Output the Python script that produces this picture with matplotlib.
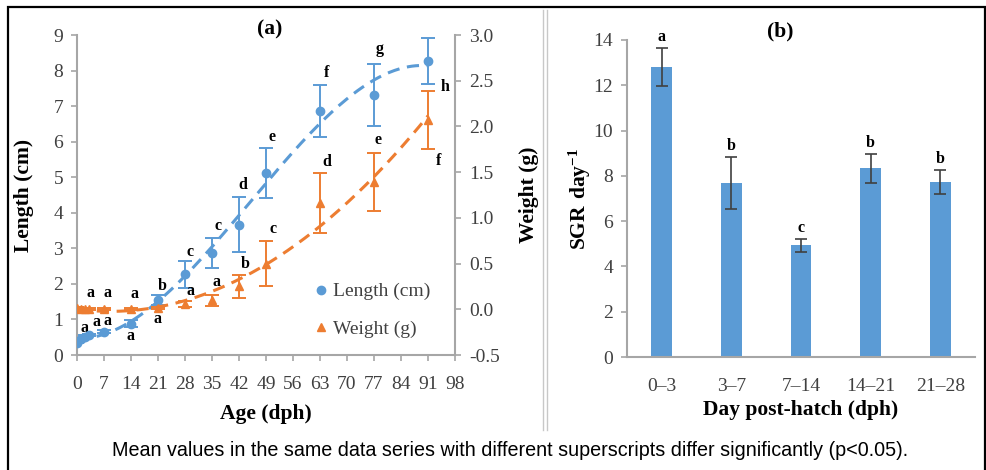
import matplotlib
matplotlib.use("Agg")
import matplotlib.pyplot as plt
import numpy as np
from matplotlib.lines import Line2D
from matplotlib.patches import Rectangle

# panel (a): growth in length and weight
age = [0, 1, 2, 3, 7, 14, 21, 28, 35, 42, 49, 63, 77, 91]
length = [0.35, 0.45, 0.52, 0.56, 0.65, 0.88, 1.55, 2.27, 2.87, 3.67, 5.12, 6.85, 7.31, 8.27]
length_err = [0.02, 0.02, 0.03, 0.03, 0.04, 0.10, 0.15, 0.38, 0.42, 0.78, 0.70, 0.73, 0.88, 0.65]
length_sig = ["", "", "a", "a", "a", "a", "b", "c", "c", "d", "e", "f", "g", "h"]
weight = [0.01, 0.0, 0.0, 0.0, 0.0, 0.0, 0.01, 0.06, 0.10, 0.25, 0.50, 1.16, 1.39, 2.07]
weight_err = [0.01, 0.01, 0.01, 0.01, 0.01, 0.01, 0.01, 0.03, 0.06, 0.13, 0.25, 0.33, 0.32, 0.32]
weight_sig = ["", "", "", "a", "a", "a", "a", "a", "a", "b", "c", "d", "e", "f"]

# panel (b): specific growth rate
sgr_period = ["0\u20133", "3\u20137", "7\u201314", "14\u201321", "21\u201328"]
sgr = [12.8, 7.7, 4.93, 8.33, 7.75]
sgr_err = [0.85, 1.15, 0.28, 0.63, 0.53]
sgr_sig = ["a", "b", "c", "b", "b"]

BLUE = "#5B9BD5"
ORANGE = "#ED7D31"
GREY = "#A6A6A6"
TXT = "#404040"
SERIF = "Liberation Serif"

# letter offsets in pixels (dx, dy) relative to error bar end
len_off = [(0, 0), (0, 0), (0, 7), (8, 12), (4, 9), (0, -9), (4, 9), (5, 9),
           (6, 12), (4, 12), (6, 11), (7, 12), (6, 15), (17, -3)]
wt_off = [(0, 0), (0, 0), (0, 0), (2, 15), (4, 15), (4, 14), (0, -10), (6, 10),
          (5, 13), (6, 11), (7, 12), (7, 11), (4, 13), (11, -12)]

plt.rcParams["font.family"] = SERIF
plt.rcParams["mathtext.fontset"] = "custom"
plt.rcParams["mathtext.rm"] = SERIF
plt.rcParams["mathtext.bf"] = SERIF + ":bold"

fig = plt.figure(figsize=(9.87, 4.7), dpi=100)


def style_axis(ax):
    for side in ["top", "right", "left", "bottom"]:
        ax.spines[side].set_visible(False)
    ax.tick_params(colors=GREY, labelcolor=TXT, labelsize=14, length=4, width=1.2)


# ---- (a)
ax = fig.add_axes([77 / 987, 1 - 355 / 470, 378 / 987, 320 / 470])
ax2 = ax.twinx()
style_axis(ax)
style_axis(ax2)
ax.spines["left"].set_visible(True)
ax.spines["bottom"].set_visible(True)
ax2.spines["right"].set_visible(True)
for sp in [ax.spines["left"], ax.spines["bottom"], ax2.spines["right"]]:
    sp.set_color(GREY)
    sp.set_linewidth(1.5)

ax.set_xlim(0, 98)
ax.set_ylim(0, 9)
ax.set_xticks(range(0, 99, 7))
ax.set_yticks(range(0, 10))
ax.tick_params(axis="x", pad=11)
ax.tick_params(axis="y", pad=6)
ax2.tick_params(axis="y", pad=6)
ax2.set_ylim(-0.5, 3.0)
ax2.set_yticks(np.arange(-0.5, 3.01, 0.5))
ax2.set_yticklabels([f"{v:.1f}" for v in np.arange(-0.5, 3.01, 0.5)])

xs = np.linspace(0, 91, 200)
fit_len = np.polyfit(age, length, 3)
fit_wt = np.polyfit(age, weight, 2)
ax.plot(xs, np.polyval(fit_len, xs), "--", color=BLUE, lw=2.2, dashes=(4, 2.5), zorder=2)
ax2.plot(xs, np.polyval(fit_wt, xs), "--", color=ORANGE, lw=2.2, dashes=(4, 2.5), zorder=2)

ax.errorbar(age, length, yerr=length_err, fmt="o", color=BLUE, ms=6, capsize=5,
            elinewidth=1.4, capthick=1.4, zorder=3)
ax2.errorbar(age, weight, yerr=weight_err, fmt="^", color=ORANGE, ms=6, capsize=5,
             elinewidth=1.4, capthick=1.4, zorder=3)

for x, y, e, s, (dx, dy) in zip(age, length, length_err, length_sig, len_off):
    if s:
        yy = y + e if dy > 0 else y - e
        ax.annotate(s, (x, yy), xytext=(dx, dy), textcoords="offset pixels",
                    ha="center", va="center", fontsize=11.5, fontweight="bold")
for x, y, e, s, (dx, dy) in zip(age, weight, weight_err, weight_sig, wt_off):
    if s:
        yy = y + e if dy > 0 else y - e
        ax2.annotate(s, (x, yy), xytext=(dx, dy), textcoords="offset pixels",
                     ha="center", va="center", fontsize=11.5, fontweight="bold")

ax.set_xlabel("Age (dph)", fontsize=15.5, fontweight="bold", labelpad=8)
ax.set_ylabel("Length (cm)", fontsize=15.5, fontweight="bold", labelpad=14)
ax2.set_ylabel("Weight (g)", fontsize=15.5, fontweight="bold", labelpad=14)
ax.set_title("(a)", fontsize=15.5, fontweight="bold", x=0.51, y=0.975)

handles = [Line2D([], [], ls="", marker="o", color=BLUE, ms=6),
           Line2D([], [], ls="", marker="^", color=ORANGE, ms=6)]
ax.legend(handles, ["Length (cm)", "Weight (g)"], loc="upper left",
          bbox_to_anchor=(0.6, 0.25), frameon=False, fontsize=14,
          handletextpad=0.1, handlelength=1.0, labelspacing=1.0,
          labelcolor=TXT, borderaxespad=0)

# ---- (b)
bx = fig.add_axes([627 / 987, 1 - 357 / 470, 348 / 987, 317 / 470])
style_axis(bx)
bx.spines["left"].set_visible(True)
bx.spines["bottom"].set_visible(True)
bx.spines["left"].set_color(GREY)
bx.spines["bottom"].set_color(GREY)
bx.spines["left"].set_linewidth(1.5)
bx.spines["bottom"].set_linewidth(1.5)
pos = np.arange(len(sgr_period))
bx.bar(pos, sgr, width=0.3, color=BLUE, zorder=2)
bx.errorbar(pos, sgr, yerr=sgr_err, fmt="none", ecolor=TXT, capsize=4,
            elinewidth=1.2, capthick=1.2, zorder=3)
for p, v, e, s in zip(pos, sgr, sgr_err, sgr_sig):
    bx.annotate(s, (p, v + e), xytext=(0, 11), textcoords="offset pixels",
                ha="center", va="center", fontsize=11.5, fontweight="bold")
bx.set_xlim(-0.5, len(sgr_period) - 0.5)
bx.set_ylim(0, 14)
bx.set_yticks(range(0, 15, 2))
bx.set_xticks(pos)
bx.set_xticklabels(sgr_period)
bx.tick_params(axis="x", length=0, pad=15)
bx.tick_params(axis="y", pad=6)
bx.set_xlabel("Day post-hatch (dph)", fontsize=15.5, fontweight="bold", labelpad=4)
bx.set_ylabel(r"$\mathbf{SGR\ day^{-1}}$", fontsize=15.5, labelpad=0)
bx.set_title("(b)", fontsize=15.5, fontweight="bold", x=0.44, y=0.985)

# frame, divider and caption
fig.add_artist(Rectangle((8 / 987, -0.02), 977 / 987, 1.02 - 7 / 470,
                         transform=fig.transFigure, fill=False, ec="black", lw=1.6))
for xp in (543, 547):
    fig.add_artist(Line2D([xp / 987, xp / 987], [1 - 430 / 470, 1 - 10 / 470],
                          transform=fig.transFigure, color="#C8C8C8", lw=1))
fig.text(510 / 987, 1 - 451 / 470,
         "Mean values in the same data series with different superscripts differ significantly (p<0.05).",
         ha="center", va="center", fontsize=14.2, family="Liberation Sans")

fig.savefig("out.png", dpi=100)
